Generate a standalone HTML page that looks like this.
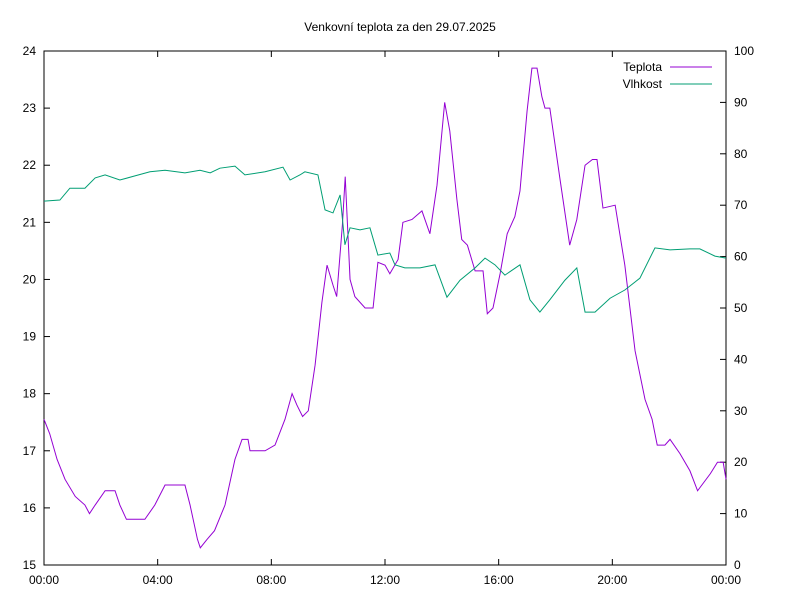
<!DOCTYPE html>
<html><head><meta charset="utf-8"><style>
body{margin:0;background:#fff;}
svg{display:block;font-family:"Liberation Sans",sans-serif;font-size:12px;}
</style></head><body>
<svg id="chart" width="800" height="600">
<rect width="800" height="600" fill="#fff"/>
<text x="400" y="31" text-anchor="middle">Venkovní teplota za den 29.07.2025</text>
<g id="axes"></g>
<g id="series"></g>
<g>
<text x="662" y="71" text-anchor="end">Teplota</text>
<line x1="670" y1="67" x2="712" y2="67" stroke="#9400d3"/>
<text x="662" y="88" text-anchor="end">Vlhkost</text>
<line x1="670" y1="84" x2="712" y2="84" stroke="#009e73"/>
</g>
</svg>
<script>
const xTickLabels=["00:00","04:00","08:00","12:00","16:00","20:00","00:00"];
const yTicks=[15,16,17,18,19,20,21,22,23,24];
const y2Ticks=[0,10,20,30,40,50,60,70,80,90,100];
const tempHours=[0,0.2,0.46,0.74,1.1,1.44,1.6,1.8,2.15,2.5,2.67,2.9,3.55,3.9,4.26,4.96,5.14,5.4,5.5,5.74,6.0,6.37,6.72,6.97,7.18,7.25,7.78,8.13,8.48,8.73,8.9,9.1,9.3,9.54,9.78,9.96,10.17,10.3,10.5,10.6,10.77,10.94,11.3,11.58,11.75,12.0,12.17,12.46,12.63,12.95,13.3,13.58,13.83,14.1,14.28,14.53,14.7,14.9,15.17,15.45,15.6,15.8,16.05,16.3,16.57,16.75,17.0,17.17,17.35,17.52,17.63,17.8,18.16,18.5,18.75,19.04,19.3,19.46,19.67,20.1,20.44,20.8,21.15,21.4,21.58,21.85,22.03,22.38,22.73,23.0,23.45,23.7,23.9,24];
const tempValues=[17.55,17.3,16.85,16.5,16.2,16.05,15.9,16.05,16.3,16.3,16.05,15.8,15.8,16.05,16.4,16.4,16.05,15.45,15.3,15.45,15.6,16.05,16.85,17.2,17.2,17.0,17.0,17.1,17.55,18.0,17.8,17.6,17.7,18.5,19.6,20.25,19.9,19.7,20.95,21.8,20.0,19.7,19.5,19.5,20.3,20.25,20.1,20.35,21.0,21.05,21.2,20.8,21.65,23.1,22.6,21.4,20.7,20.6,20.15,20.15,19.4,19.5,20.1,20.8,21.1,21.55,22.95,23.7,23.7,23.2,23.0,23.0,21.75,20.6,21.05,22.0,22.1,22.1,21.25,21.3,20.25,18.75,17.9,17.55,17.1,17.1,17.2,16.95,16.65,16.3,16.6,16.8,16.8,16.5];
const humHours=[0,0.56,0.91,1.44,1.8,2.15,2.67,3.2,3.73,4.26,4.96,5.49,5.85,6.19,6.72,7.07,7.78,8.41,8.66,9.01,9.18,9.64,9.89,10.17,10.42,10.59,10.77,11.12,11.47,11.75,12.17,12.35,12.7,13.23,13.76,14.18,14.64,15.17,15.52,15.87,16.22,16.75,17.1,17.45,17.8,18.33,18.75,19.04,19.39,19.92,20.44,20.97,21.5,22.03,22.73,23.08,23.61,24];
const humValues=[70.8,71,73.3,73.3,75.3,75.9,74.9,75.7,76.5,76.8,76.3,76.8,76.3,77.2,77.6,75.9,76.5,77.4,74.9,75.9,76.5,75.9,69.1,68.5,72,62.3,65.6,65.2,65.6,60.3,60.7,58.4,57.8,57.8,58.4,52.1,55.4,57.8,59.7,58.4,56.4,58.4,51.6,49.2,51.6,55.4,57.8,49.2,49.2,51.9,53.5,55.8,61.7,61.3,61.5,61.5,60.1,59.7];
const L=44,R=726,T=51,B=565;
const xs=h=>L+(R-L)*h/24;
const ys=t=>B-(B-T)*(t-15)/9;
const y2s=v=>B-(B-T)*v/100;
const NS="http://www.w3.org/2000/svg";
const axes=document.getElementById('axes');
function mk(tag,attrs,parent){const e=document.createElementNS(NS,tag);for(const k in attrs)e.setAttribute(k,attrs[k]);parent.appendChild(e);return e;}
const frame=mk('rect',{x:L,y:T,width:R-L,height:B-T,fill:'none',stroke:'#000'},axes);


yTicks.forEach(t=>{const y=ys(t);
 const l=mk('line',{x1:L,y1:y,x2:L+6,y2:y,stroke:'#000'},axes);
 
 
 const tx=mk('text',{x:L-8,y:y+4,'text-anchor':'end'},axes);tx.textContent=t;
 
 });
y2Ticks.forEach(v=>{const y=y2s(v);
 const l=mk('line',{x1:R-6,y1:y,x2:R,y2:y,stroke:'#000'},axes);
 
 
 const tx=mk('text',{x:R+8,y:y+4,'text-anchor':'start'},axes);tx.textContent=v;
 
 });
xTickLabels.forEach((lab,i)=>{const x=xs(i*4);
 const l=mk('line',{x1:x,y1:B,x2:x,y2:B-6,stroke:'#000'},axes);
 
 
 const l2=mk('line',{x1:x,y1:T,x2:x,y2:T+6,stroke:'#000'},axes);
 
 
 const tx=mk('text',{x:x,y:B+19,'text-anchor':'middle'},axes);tx.textContent=lab;
 
 });
const ser=document.getElementById('series');
const tp=mk('polyline',{points:tempHours.map((h,i)=>xs(h)+','+ys(tempValues[i])).join(' '),fill:'none',stroke:'#9400d3','stroke-width':1},ser);


const hp=mk('polyline',{points:humHours.map((h,i)=>xs(h)+','+y2s(humValues[i])).join(' '),fill:'none',stroke:'#009e73','stroke-width':1},ser);


</script>
</body></html>
